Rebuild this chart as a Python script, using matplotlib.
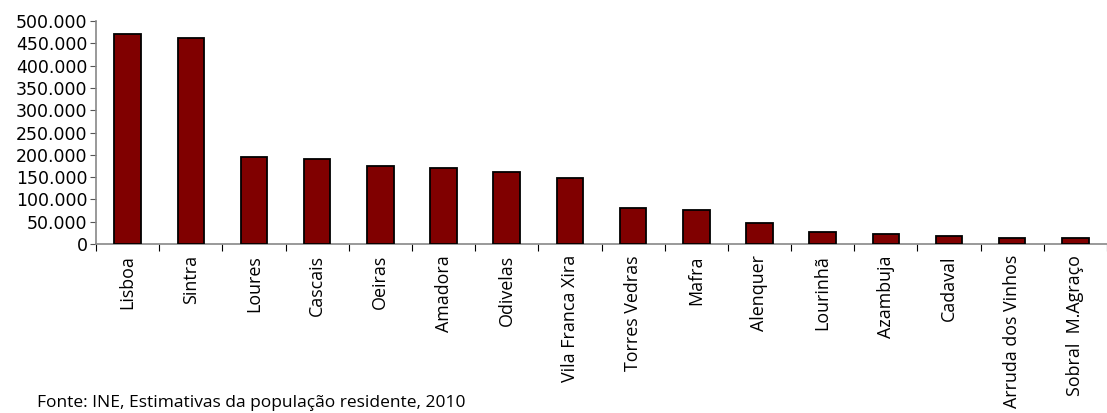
import matplotlib.pyplot as plt
from matplotlib.ticker import FuncFormatter

plt.rcParams['font.family'] = ['Open Sans', 'DejaVu Sans']

municipios = ["Lisboa", "Sintra", "Loures", "Cascais", "Oeiras", "Amadora",
              "Odivelas", "Vila Franca Xira", "Torres Vedras", "Mafra",
              "Alenquer", "Lourinhã", "Azambuja", "Cadaval",
              "Arruda dos Vinhos", "Sobral  M.Agraço"]
populacao = [471500, 463000, 194600, 189500, 173800, 169300,
             161000, 148200, 81700, 77200,
             48000, 27800, 22500, 18000,
             13500, 13500]

W, H = 1107, 413
fig = plt.figure(figsize=(W / 100, H / 100), dpi=100)

# eixo em pixels: origem x=96, base y=244, topo (500.000) y=21
ax = fig.add_axes([96 / W, 1 - 244 / H, (W - 96) / W, (244 - 21) / H])

x = list(range(len(municipios)))
ax.bar(x, populacao, width=0.42, color="#800000", edgecolor="black",
       linewidth=1.3, zorder=3)

passo = 63.7
ax.set_xlim(-0.5, -0.5 + (W - 96) / passo)
ax.set_ylim(0, 500000)
ax.set_yticks(range(0, 500001, 50000))
ax.yaxis.set_major_formatter(
    FuncFormatter(lambda v, p: f"{int(v):,}".replace(",", ".")))
for lbl in ax.get_yticklabels():
    lbl.set_family(['DejaVu Sans'])

# marcas do eixo x entre as categorias, nomes rodados por baixo
ax.set_xticks([i - 0.5 for i in range(len(municipios) + 1)])
ax.set_xticklabels([])
ax.set_xticks(x, minor=True)
ax.set_xticklabels(municipios, minor=True, rotation=90, fontsize=12.9,
                   va="top", ha="center")
ax.tick_params(axis="x", which="major", length=5, width=0.8, color="black")
ax.tick_params(axis="x", which="minor", length=0, pad=8)
ax.tick_params(axis="y", length=4, width=0.8, color="#555555",
               labelsize=12.5, pad=2)

for s in ["top", "right"]:
    ax.spines[s].set_visible(False)
for s in ["left", "bottom"]:
    ax.spines[s].set_color("#888888")
    ax.spines[s].set_linewidth(1.2)

fig.text(37 / W, 2 / H,
         "Fonte: INE, Estimativas da população residente, 2010",
         fontsize=12.5, va="bottom", ha="left")

fig.savefig("out.png", dpi=100)
